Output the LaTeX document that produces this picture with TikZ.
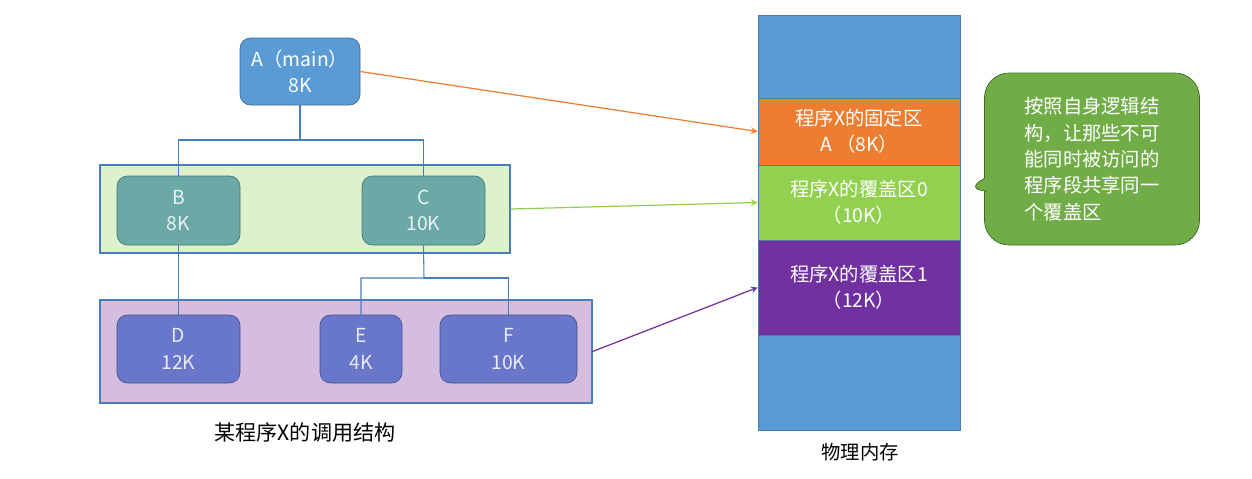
\documentclass[tikz,border=0pt]{standalone}
\usepackage{fontspec}
\setmainfont{Noto Sans CJK SC}
\usetikzlibrary{shapes.callouts}
\definecolor{ablue}{HTML}{5B9BD5}
\definecolor{teal1}{HTML}{6AA9A6}
\definecolor{pur1}{HTML}{6877C9}
\definecolor{gbox}{HTML}{DDF2CC}
\definecolor{pbox}{HTML}{D5BDE0}
\definecolor{bord}{HTML}{4A7EBB}
\definecolor{orn}{HTML}{ED7D31}
\definecolor{lgr}{HTML}{92D050}
\definecolor{mpur}{HTML}{7030A0}
\definecolor{cgr}{HTML}{70AD47}
\begin{document}
\begin{tikzpicture}[x=0.02cm,y=-0.02cm,font=\fontsize{11}{15}\selectfont,
  mod/.style={draw=#1!70!black,fill=#1,rounded corners=6pt,text=white!85!#1,align=center,inner sep=0pt},
  grp/.style={draw=bord,fill=#1,line width=0.6pt},
  seg/.style={draw=ablue!80!black,fill=#1,text=white,align=center,inner sep=0pt},
  tr/.style={draw=bord,line width=0.6pt},
  arr/.style={->,>=stealth,line width=0.7pt}]
\useasboundingbox (0,0) rectangle (1252,478);
% groups
\node[grp=gbox,minimum width=410*0.02cm,minimum height=88*0.02cm] (g1) at (305,209) {};
\node[grp=pbox,minimum width=492*0.02cm,minimum height=103*0.02cm] (g2) at (346,351.5) {};
% modules
\node[mod=ablue,minimum width=120*0.02cm,minimum height=67*0.02cm,text=white] (A) at (300,71.5) {A（main）\\8K};
\node[mod=teal1,minimum width=123*0.02cm,minimum height=69*0.02cm] (B) at (178.5,210.5) {B\\8K};
\node[mod=teal1,minimum width=123*0.02cm,minimum height=69*0.02cm] (C) at (423.5,210.5) {C\\10K};
\node[mod=pur1,minimum width=123*0.02cm,minimum height=68*0.02cm] (D) at (178.5,349) {D\\12K};
\node[mod=pur1,minimum width=82*0.02cm,minimum height=68*0.02cm] (E) at (361,349) {E\\4K};
\node[mod=pur1,minimum width=137*0.02cm,minimum height=68*0.02cm] (F) at (508.5,349) {F\\10K};
% tree
\coordinate (a1) at (300,140);
\coordinate (c1) at (424,278);
\draw[tr] (A.south) -- (a1) -| (B.north);
\draw[tr] (a1) -| (C.north);
\draw[tr] (B.south) -- (D.north);
\draw[tr] (C.south) -- (c1) -| (E.north);
\draw[tr] (c1) -| (F.north);
\node[font=\fontsize{12}{14}\selectfont\itshape] (cap) at (305,432) {某程序X的调用结构};
% memory
\node[seg=ablue,minimum width=202*0.02cm,minimum height=415*0.02cm] (mem) at (859,222.5) {};
\node[seg=orn,minimum width=202*0.02cm,minimum height=67*0.02cm] (m0) at (859,131.5) {程序X的固定区\\A （8K）};
\node[seg=lgr,minimum width=202*0.02cm,minimum height=75*0.02cm] (m1) at (859,202.5) {程序X的覆盖区0\\（10K）};
\node[seg=mpur,minimum width=202*0.02cm,minimum height=95*0.02cm] (m2) at (859,287.5) {程序X的覆盖区1\\（12K）};
\node (ml) at (860,452) {物理内存};
% callout
\node[rectangle callout,rounded corners=14pt,draw=cgr!60!black,fill=cgr,text=white,align=left,
  minimum width=215*0.02cm,minimum height=172*0.02cm,inner sep=4pt,
  callout absolute pointer={(962,190)}] (cl) at (1092,159)
  {按照自身逻辑结\\构，让那些不可\\能同时被访问的\\程序段共享同一\\个覆盖区};
% arrows
\draw[arr,orn] (A.east) -- (m0.west);
\draw[arr,lgr] (g1.east) -- (m1.west);
\draw[arr,mpur] (g2.east) -- (m2.west);
\end{tikzpicture}
\end{document}
